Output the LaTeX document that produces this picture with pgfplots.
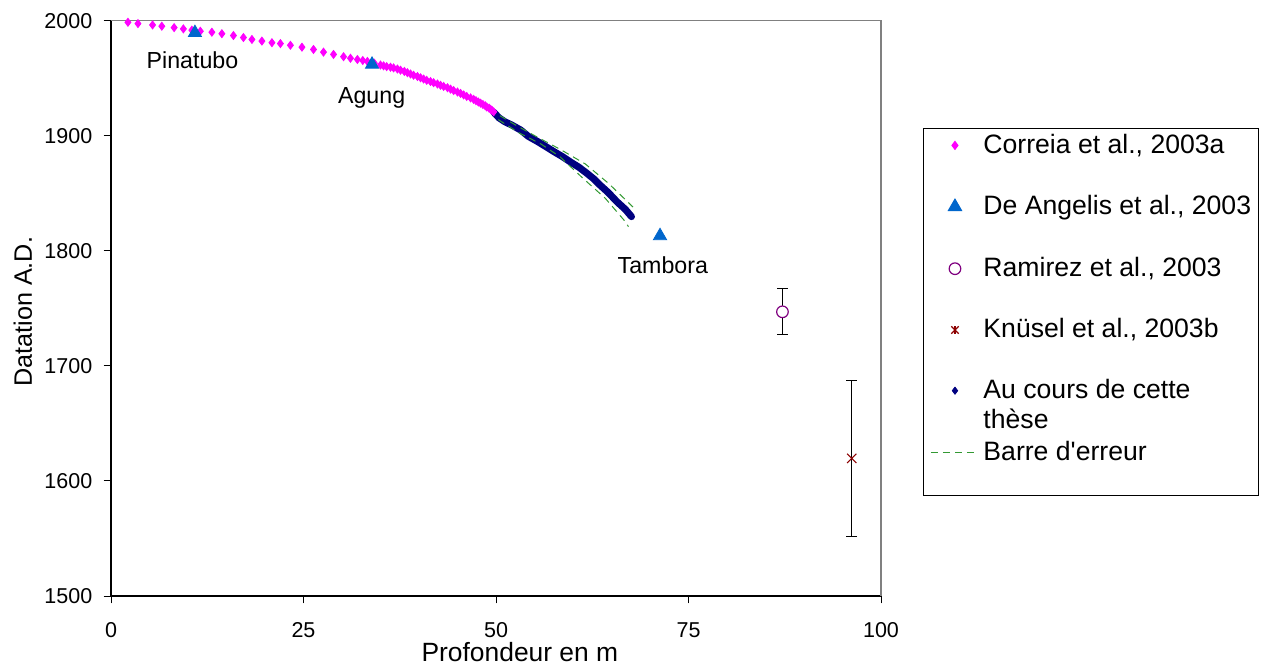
\documentclass[border=0pt]{standalone}
\usepackage{fontspec}
\setmainfont{Liberation Sans}[Ligatures=TeXOff]
\usepackage{pgfplots}
\pgfplotsset{compat=1.18}
\definecolor{pinkc}{RGB}{255,0,255}
\definecolor{bluec}{RGB}{0,102,204}
\definecolor{navyc}{RGB}{0,0,128}
\definecolor{purplec}{RGB}{128,0,128}
\definecolor{redc}{RGB}{140,0,0}
\definecolor{greenc}{RGB}{51,153,51}
\begin{document}
\begin{tikzpicture}
\useasboundingbox (0,0) rectangle (634pt,332.5pt);
\begin{axis}[
  at={(55.5pt,34.5pt)}, anchor=south west,
  scale only axis, width=385pt, height=287.65pt,
  xmin=0, xmax=100, ymin=1500, ymax=2000,
  axis x line*=bottom, axis y line*=left,
  axis line style={line width=0.7pt, black},
  xtick={0,25,50,75,100}, ytick={1500,1600,1700,1800,1900,2000},
  tick align=outside, major tick length=3.7pt,
  tick style={black, line width=0.5pt},
  ticklabel style={font=\fontsize{10.75}{13}\selectfont, inner sep=0pt},
  /pgf/number format/assume math mode=true,
  /pgf/number format/1000 sep={},
  xticklabel shift=9.35pt, yticklabel shift=5.45pt,
  xlabel={Profondeur en m}, ylabel={Datation A.D.},
  xlabel style={font=\fontsize{13.2}{16}\selectfont, at={(axis description cs:0.531,-0.113)}, anchor=base},
  ylabel style={font=\fontsize{12.6}{15}\selectfont, at={(axis description cs:-0.1026,0.494)}, anchor=base},
  clip=false,
  legend style={at={(axis description cs:1.0545,0.8135)}, anchor=north west, draw=black, line width=0.5pt, fill=white,
    inner xsep=3.5pt, inner ysep=1.35pt, row sep=0pt, column sep=2pt,
    font=\fontsize{13.3}{16}\selectfont, cells={anchor=base west}, nodes={inner sep=0pt}},
  legend image code/.code={\draw[mark repeat=2,mark phase=2,#1] plot coordinates {(0pt,3.9pt) (12pt,3.9pt) (24pt,3.9pt)};},
]
\addplot[only marks, mark=diamond*, mark size=2pt, color=pinkc] coordinates {
(2.2,1998.6) (3.5,1997.5) (5.4,1996.3) (6.6,1995.2) (8.2,1994.0) (9.4,1992.9) (10.5,1991.8) (11.6,1990.9)
(13.1,1990.0) (14.4,1988.7) (15.9,1987.1) (17.2,1985.4) (18.3,1983.7) (19.6,1982.3) (20.9,1980.9) (22.0,1980.1)
(23.3,1978.7) (24.8,1977.0) (26.3,1975.0) (27.6,1972.7) (28.9,1970.7) (30.2,1968.7) (31.1,1967.4) (32.0,1966.3)
(32.7,1965.4) (33.3,1964.6) (34.2,1963.1) (35.0,1961.5) (35.4,1960.8) (35.8,1960.1) (36.3,1959.6) (36.7,1959.0)
(37.2,1958.0) (37.6,1957.0) (38.1,1955.9) (38.5,1954.8) (38.9,1953.7) (39.3,1952.6) (39.8,1951.5) (40.2,1950.4)
(40.6,1949.3) (41.0,1948.2) (41.5,1947.1) (41.9,1946.1) (42.4,1945.0) (42.8,1943.9) (43.2,1942.9) (43.7,1941.8)
(44.1,1940.5) (44.5,1939.3) (45.0,1938.0) (45.4,1936.8) (45.8,1935.5) (46.2,1934.2) (46.7,1932.9) (47.1,1931.6)
(47.4,1930.5) (47.7,1929.4) (48.0,1928.3) (48.3,1927.2) (48.6,1926.1) (48.8,1925.0) (49.1,1924.0) (49.3,1923.0)
(49.5,1921.9) (49.7,1920.8)};
\addlegendentry[text height=11pt, text depth=19.65pt]{Correia et al., 2003a}
\addplot[only marks, mark=triangle*, mark size=3.8pt, color=bluec] coordinates {(10.9,1989.5) (33.9,1962) (71.3,1813)};
\addlegendentry[text height=11pt, text depth=20pt]{De Angelis et al., 2003}
\addplot[only marks, mark=*, mark size=2.9pt, draw=purplec, fill=white, mark options={line width=0.6pt, draw=purplec, fill=white},
  error bars/.cd, y dir=both, y explicit, error bar style={black, line width=0.6pt}, error mark options={black, line width=0.6pt, mark size=2.7pt, rotate=90}]
  coordinates {(87.2,1747) +- (0,20)};
\addlegendentry[text height=11pt, text depth=19.65pt]{Ramirez et al., 2003}
\addplot[only marks, mark=x, mark size=3.3pt, color=redc, mark options={line width=0.6pt},
  legend image code/.code={\draw[redc, line width=0.6pt, mark=x, mark size=2.6pt] plot coordinates {(12pt,3.9pt)};
    \draw[redc, line width=0.6pt, mark=|, mark size=2pt] plot coordinates {(12pt,3.9pt)};},
  error bars/.cd, y dir=both, y explicit, error bar style={black, line width=0.6pt}, error mark options={black, line width=0.6pt, mark size=2.7pt, rotate=90}]
  coordinates {(96.2,1619.6) +- (0,68)};
\addlegendentry[text height=11pt, text depth=19.35pt]{Knüsel et al., 2003b}
\addplot[navyc, line width=3.5pt, line join=round, line cap=round, mark=none,
  legend image code/.code={\draw[navyc, line width=0.4pt, mark=diamond*, mark size=1.8pt, mark options={fill=navyc}] plot coordinates {(12pt,3.9pt)};}]
  coordinates {(49.7,1920.5) (50.4,1915.5) (51.2,1912.0) (52.0,1909.5) (53.2,1905.0) (54.2,1899.5) (55.4,1895.0)
  (56.5,1890.5) (57.5,1886.3) (58.6,1882.0) (59.6,1877.5) (60.8,1872.5) (61.8,1867.4) (62.7,1862.5) (63.5,1857.2)
  (64.6,1850.5) (65.7,1842.7) (66.8,1836.0) (67.6,1829.7)};
\addlegendentry[text height=11pt, text depth=3.85pt]{Au cours de cette}
\addlegendimage{empty legend}
\addlegendentry[text height=11pt, text depth=5.15pt]{thèse}
\addplot[greenc, line width=0.5pt, dash pattern=on 3.5pt off 2.5pt] coordinates {
(50.5,1917.5) (52.5,1909.5) (55.1,1899.8) (58.5,1887.6) (61.6,1875.5) (64.6,1858.7) (67.3,1841.3) (67.8,1838.0)};
\addlegendentry[text height=11pt, text depth=16.15pt]{Barre d'erreur}
\addplot[greenc, line width=0.5pt, dash pattern=on 3.5pt off 2.5pt, forget plot] coordinates {
(50.3,1914.0) (53.0,1902.5) (55.8,1893.0) (58.3,1881.8) (61.3,1863.0) (64.2,1845.6) (66.8,1825.3) (67.2,1821.0)};
\draw[gray, line width=0.7pt] (rel axis cs:0,1) -- (rel axis cs:1,1) -- (rel axis cs:1,0);
\node[anchor=base, font=\fontsize{11.6}{14}\selectfont] at (axis cs:10.58,1958.6) {Pinatubo};
\node[anchor=base, font=\fontsize{11.6}{14}\selectfont] at (axis cs:33.85,1928.2) {Agung};
\node[anchor=base, font=\fontsize{11.6}{14}\selectfont] at (axis cs:71.66,1779.9) {Tambora};
\end{axis}
\end{tikzpicture}
\end{document}
